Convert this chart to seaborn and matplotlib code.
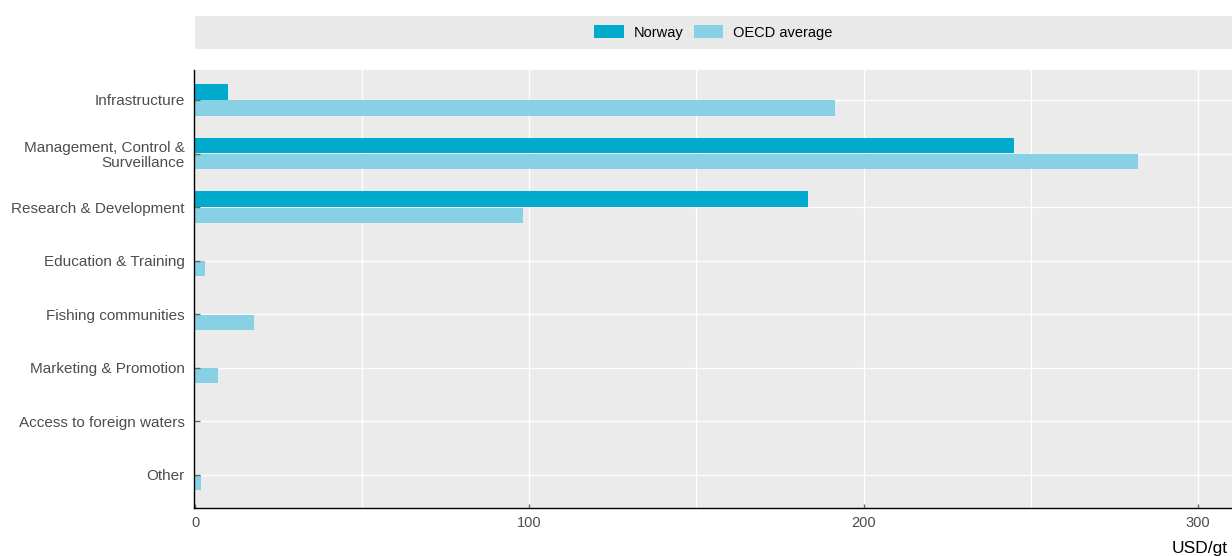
import matplotlib
matplotlib.use("Agg")
import matplotlib.pyplot as plt
import seaborn as sns
import pandas as pd
from matplotlib.patches import Patch

categories = ["Infrastructure", "Management, Control &\nSurveillance", "Research & Development",
              "Education & Training", "Fishing communities", "Marketing & Promotion",
              "Access to foreign waters", "Other"]
norway = [10, 245, 183.5, 0, 0, 0, 0, 0]
oecd = [191.3, 282, 98, 3.0, 17.6, 6.9, 0, 1.8]
series = ["Norway", "OECD average"]
colors = ["#00AACC", "#88D1E4"]
xticks = [0, 100, 200, 300]
xgrid = [50, 100, 150, 200, 250, 300]
unit_label = "USD/gt"

sns.set_style("darkgrid", {"axes.facecolor": "#EBEBEB", "grid.color": "white"})
plt.rcParams["font.family"] = ["Liberation Sans", "DejaVu Sans"]

df = pd.DataFrame({
    "category": categories * 2,
    "value": norway + oecd,
    "series": [series[0]] * len(categories) + [series[1]] * len(categories),
})

fig = plt.figure(figsize=(12.32, 5.56), dpi=100)
W, H = 1232, 556
ax = fig.add_axes([194.5 / W, 1 - 508 / H, (W - 194.5) / W, (508 - 70) / H])

sns.barplot(data=df, y="category", x="value", hue="series", orient="h",
            palette=colors, saturation=1, width=0.6, gap=0.06, ax=ax, legend=False,
            linewidth=0, edgecolor="none", zorder=2)

ax.set_xlim(-0.15, 310.2)
ax.set_ylim(7.62, -0.56)
ax.set_xticks(xticks)
ax.grid(False)
for gx in xgrid:
    ax.axvline(gx, color="white", lw=1.0, zorder=0.6)
for gy in range(len(categories)):
    ax.axhline(gy, color="white", lw=1.0, zorder=0.6)
ax.set_axisbelow(False)
ax.set_xlabel("")
ax.set_ylabel("")

for s in ["top", "right"]:
    ax.spines[s].set_visible(False)
for s in ["left", "bottom"]:
    ax.spines[s].set_visible(True)
    ax.spines[s].set_color("black")
    ax.spines[s].set_linewidth(1.0)
    ax.spines[s].set_zorder(5)

ax.tick_params(axis="y", which="major", direction="in", length=4, width=1, color="#666666",
               labelsize=11, labelcolor="#4d4d4d", pad=7, left=True)
ax.tick_params(axis="x", which="major", direction="in", length=3, width=1, color="#666666",
               labelsize=10.5, labelcolor="#4d4d4d", pad=6, bottom=True)
for lab in ax.get_yticklabels():
    lab.set_multialignment("right")
    lab.set_linespacing(1.12)

fig.text(1172 / W, 1 - 553 / H, unit_label, fontsize=12.5, color="black",
         ha="left", va="baseline")

# legend strip
lax = fig.add_axes([195 / W, 1 - 49 / H, (W - 195) / W, 33 / H])
lax.set_facecolor("#E9E9E9")
lax.set_xticks([])
lax.set_yticks([])
lax.grid(False)
for s in lax.spines.values():
    s.set_visible(False)
handles = [Patch(facecolor=c, edgecolor="none", label=l) for c, l in zip(colors, series)]
lax.legend(handles=handles, loc="center", ncol=2, frameon=False, fontsize=10.5,
           handlelength=2.0, handleheight=0.95, handletextpad=0.7, columnspacing=0.7,
           borderaxespad=0, labelcolor="black")

fig.savefig("out.png", dpi=100)
